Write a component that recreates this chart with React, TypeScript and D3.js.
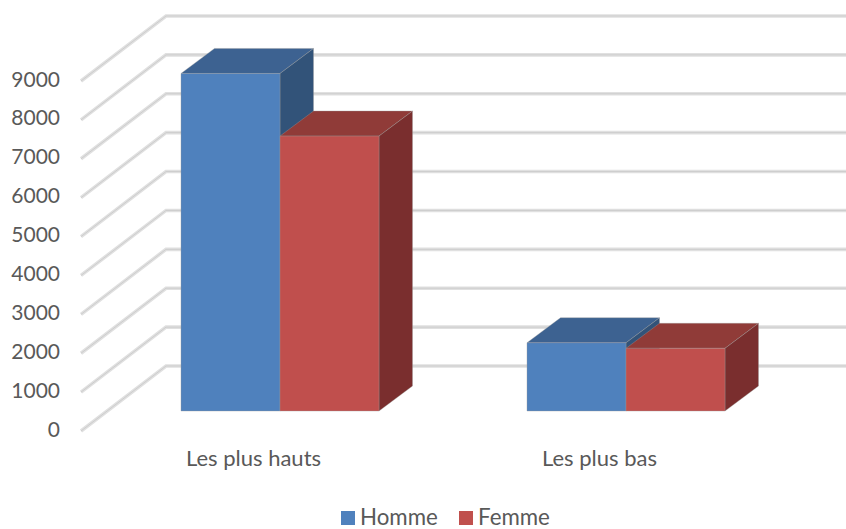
import React from "react";
import * as d3 from "d3";

const categories = ["Les plus hauts", "Les plus bas"];
const seriesNames = ["Homme", "Femme"];
const homme = [8680, 1755];
const femme = [7070, 1612];
const ticks = [0, 1000, 2000, 3000, 4000, 5000, 6000, 7000, 8000, 9000];

const colors = [
  { front: "#4f81bd", top: "#3c6291", side: "#325379" },
  { front: "#c0504d", top: "#903a37", side: "#7a2f2d" },
];
const font = "Lato, 'Open Sans', sans-serif";
const textColor = "#595959";

export default function App() {
  const y = d3.scaleLinear().domain([0, 9000]).range([0, 350]);
  const x = d3.scaleBand<string>().domain(categories).range([107, 799]);
  const seriesX = d3.scaleBand<string>().domain(seriesNames).range([0, 198]);
  const values = [homme, femme];
  const floorFront = 431, floorX = 81;
  const wallDx = 85, wallDy = -65;
  const barBase = 411, depthDx = 33.5, depthDy = -25;
  const line = d3.line<[number, number]>();

  return (
    <svg width={846} height={529} style={{ position: "absolute", left: 0, top: 0 }} fontFamily={font}>
      <defs>
        <filter id="soft" x="-5%" y="-5%" width="110%" height="110%">
          <feGaussianBlur stdDeviation="0.5" />
        </filter>
      </defs>
      <rect width={846} height={529} fill="#fff" />
      <g filter="url(#soft)">
        {ticks.map((t) => {
          const yy = floorFront - y(t);
          const d = line([[floorX, yy], [floorX + wallDx, yy + wallDy], [846, yy + wallDy]])!;
          return (
            <g key={t} fill="none">
              <path d={d} stroke="#e0e0e0" strokeWidth={3.6} />
              <path d={d} stroke="#cdcdcd" strokeWidth={1} />
            </g>
          );
        })}
        {categories.map((c, ci) =>
          seriesNames.map((s, si) => {
            const col = colors[si];
            const x0 = (x(c) as number) + (x.bandwidth() - 198) / 2 + (seriesX(s) as number);
            const x1 = x0 + seriesX.bandwidth();
            const yt = barBase - y(values[si][ci]);
            const front = `M${x0},${yt}H${x1}V${barBase}H${x0}Z`;
            const top = `M${x0},${yt}L${x0 + depthDx},${yt + depthDy}H${x1 + depthDx}L${x1},${yt}Z`;
            const side = `M${x1},${yt}L${x1 + depthDx},${yt + depthDy}V${barBase + depthDy}L${x1},${barBase}Z`;
            return (
              <g key={c + s} stroke="#9a9a9a" strokeOpacity={0.45} strokeWidth={0.8}>
                <path d={top} fill={col.top} />
                <path d={side} fill={col.side} />
                <path d={front} fill={col.front} />
              </g>
            );
          })
        )}
      </g>
      {ticks.map((t) => (
        <text key={t} x={60} y={floorFront - y(t) + 5.5} textAnchor="end" fontSize={21} fill={textColor}>
          {t}
        </text>
      ))}
      {categories.map((c) => (
        <text key={c} x={(x(c) as number) + x.bandwidth() / 2 - 26.5} y={466} textAnchor="middle" fontSize={22} fill={textColor}>
          {c}
        </text>
      ))}
      {seriesNames.map((s, i) => {
        const lx = [341, 459][i];
        return (
          <g key={s}>
            <rect x={lx} y={511} width={14} height={14} fill={colors[i].front} />
            <text x={lx + 19} y={525} fontSize={22.3} fill={textColor}>{s}</text>
          </g>
        );
      })}
    </svg>
  );
}
